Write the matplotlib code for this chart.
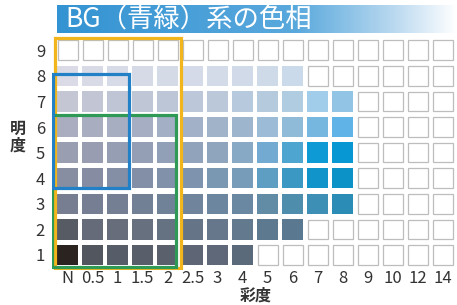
import matplotlib
matplotlib.use("Agg")
import matplotlib.pyplot as plt
import numpy as np
from matplotlib.patches import Rectangle
from matplotlib.colors import LinearSegmentedColormap

plt.rcParams['font.family'] = ['Liberation Sans Narrow', 'Noto Sans CJK JP', 'DejaVu Sans']

# ---- data ----
title = "BG（青緑）系の色相"
chroma_labels = ["N", "0.5", "1", "1.5", "2", "2.5", "3", "4", "5", "6",
                 "7", "8", "9", "10", "12", "14"]
value_levels = [1, 2, 3, 4, 5, 6, 7, 8, 9]
x_label = "彩度"
y_label = "明度"

# sample colours per value (明度), from chroma N upward; missing = empty cell
shades_v1 = ["#2a231f", "#51565f", "#575d68", "#585e6a", "#5a606c", "#5e6574",
             "#5e6878", "#5a6a7a"]
shades_v2 = ["#575b63", "#656b78", "#676d7b", "#66707e", "#657282", "#667488",
             "#66778c", "#637a8e", "#5d798f", "#5a7990"]
shades_v3 = ["#777e92", "#767e93", "#757f94", "#728096", "#708298", "#70849c",
             "#6d86a0", "#6a88a2", "#628ba6", "#4e8eac", "#3d8fb6", "#2b8db5"]
shades_v4 = ["#888ea2", "#868da3", "#848ea5", "#828fa7", "#8091a9", "#7e94ae",
             "#7b98b3", "#769cb9", "#5d9ec2", "#3a98c2", "#1094ca", "#0d92c7"]
shades_v5 = ["#9a9eb1", "#989db1", "#969eb3", "#949fb5", "#92a0b7", "#90a3bb",
             "#8ea5bd", "#88a9c5", "#72aad2", "#4ea6d0", "#0e9bd5", "#0797d3"]
shades_v6 = ["#aaadbf", "#a8adc0", "#a7aec1", "#a5aec3", "#a3afc5", "#a2b1c7",
             "#a0b3c9", "#9db6cd", "#9bbbd6", "#8fbbd9", "#76b7e0", "#60b3e7"]
shades_v7 = ["#c4c6d4", "#c2c5d4", "#c0c5d6", "#bfc6d6", "#bdc6d7", "#bcc7d9",
             "#bac8da", "#b7c9dc", "#b6cadd", "#afcce0", "#a2cdea", "#92c5e5"]
shades_v8 = ["#dadbe6", "#d8dae6", "#d7dae7", "#d6dae7", "#d5dae7", "#d4dae8",
             "#d3dae8", "#d1dae9", "#cfdae9", "#cbdaea"]
shades_v9 = []
shades = [shades_v1, shades_v2, shades_v3, shades_v4, shades_v5,
          shades_v6, shades_v7, shades_v8, shades_v9]

# highlighted ranges: (first chroma idx, last chroma idx, low value, high value)
frame_orange = (0, 4, 1, 9)
frame_green = (0, 4, 1, 6)
frame_blue = (0, 2, 4, 8)

# ---- figure ----
fig = plt.figure(figsize=(4.57, 3.05), dpi=100)
ax = fig.add_axes([52 / 457, 35 / 305, 405 / 457, 234 / 305])
ax.set_xlim(-0.62, 15.58)
ax.set_ylim(0.414, 9.555)

cw, ch = 0.84, 0.80
for v, row in zip(value_levels, shades):
    for i in range(len(chroma_labels)):
        if i < len(row):
            ax.add_patch(Rectangle((i - cw / 2, v - ch / 2), cw, ch,
                                   facecolor=row[i], edgecolor="none"))
        else:
            ax.add_patch(Rectangle((i - cw / 2 + 0.02, v - ch / 2 + 0.02),
                                   cw - 0.04, ch - 0.04, facecolor="white",
                                   edgecolor="#bdbdbd", lw=0.9))


def frame(rng, color, pad_l, pad_r, y_lo, y_hi):
    c0, c1, v0, v1 = rng
    x0 = c0 - cw / 2 - pad_l
    x1 = c1 + cw / 2 + pad_r
    ax.add_patch(Rectangle((x0, v0 + y_lo), x1 - x0, (v1 + y_hi) - (v0 + y_lo),
                           fill=False, edgecolor=color, lw=2.3, zorder=5))


frame(frame_orange, "#f2b51c", 0.08, 0.12, -0.51, 0.48)
frame(frame_green, "#2f9a55", 0.20, -0.08, -0.47, 0.47)
frame(frame_blue, "#2180c6", 0.16, 0.04, -0.38, 0.07)

ax.set_xticks(range(len(chroma_labels)))
ax.set_xticklabels(chroma_labels)
ax.set_yticks(value_levels)
ax.tick_params(length=0, labelsize=12, labelcolor="#333333")
ax.tick_params(axis="x", pad=0)
ax.tick_params(axis="y", pad=5)
for s in ax.spines.values():
    s.set_visible(False)

fig.text(256 / 457, 1 - 296 / 305, x_label, fontsize=11.5, color="#333333",
         ha="center", va="center", fontweight="bold", family=['Noto Sans CJK JP'])
fig.text(18 / 457, 1 - 137 / 305, "\n".join(y_label), fontsize=11.5,
         color="#333333", ha="center", va="center", linespacing=1.05,
         fontweight="bold", family=['Noto Sans CJK JP'])

# title banner with a fading blue gradient
tax = fig.add_axes([57 / 457, (305 - 33) / 305, 400 / 457, 28 / 305])
cmap = LinearSegmentedColormap.from_list(
    "band", [(0, "#3493d2"), (0.6, "#5aa9dd"), (0.85, "#bcdaf0"), (1, "#ffffff")])
tax.imshow(np.linspace(0, 1, 256)[None, :], aspect="auto", cmap=cmap,
           extent=[0, 1, 0, 1])
tax.set_axis_off()
tax.text(0.02, 0.47, title, color="white", fontsize=19, ha="left", va="center",
         family=['Noto Sans CJK JP'], transform=tax.transAxes)

fig.savefig("out.png", dpi=100)
